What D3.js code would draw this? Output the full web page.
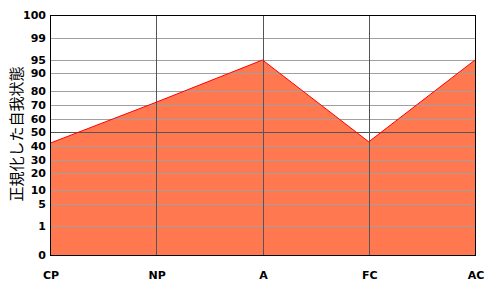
<!DOCTYPE html>
<html>
<head>
<meta charset="utf-8">
<script src="https://cdn.jsdelivr.net/npm/d3@7"></script>
<style>
  body { margin: 0; background: #fff; }
  .tick-label { font-family: "DejaVu Sans", sans-serif; font-weight: bold; font-size: 11px; fill: #000; }
  .axis-title { font-family: "Noto Sans CJK JP", sans-serif; font-size: 15px; fill: #000; }
</style>
</head>
<body>
<div id="chart"></div>
<script>
const egoStates = ["CP", "NP", "A", "FC", "AC"];
const percentiles = [42, 72, 95, 43, 95];
const yTicks = [0, 1, 5, 10, 20, 30, 40, 50, 60, 70, 80, 90, 95, 99, 100];

const width = 500;
const height = 300;
const margin = { top: 15, right: 25, bottom: 45, left: 50 };

const svg = d3.select("#chart").append("svg").attr("width", width).attr("height", height);

const xScale = d3.scalePoint().domain(egoStates).range([margin.left, width - margin.right]);
// normalized (non-linear) percentile axis, piecewise between the tick stops
const yScale = d3.scaleLinear()
    .domain(yTicks)
    .range([255, 226, 204, 190, 173, 160, 146, 132, 119, 105, 91, 73, 60, 38, 15]);

const data = egoStates.map((s, i) => ({ state: s, value: percentiles[i] }));

const area = d3.area().x(d => xScale(d.state)).y0(yScale(0)).y1(d => yScale(d.value));
const line = d3.line().x(d => xScale(d.state)).y(d => yScale(d.value));

svg.append("path").datum(data).attr("fill", "#FF7850").attr("d", area);

const crisp = v => Math.round(v) + 0.5;

// horizontal grid
svg.append("g").selectAll("line").data(yTicks.filter(t => t > 0 && t < 100)).enter().append("line")
    .attr("x1", margin.left).attr("x2", width - margin.right)
    .attr("y1", d => crisp(yScale(d))).attr("y2", d => crisp(yScale(d)))
    .attr("stroke", d => d === 50 ? "#555555" : "#A0A0A0").attr("stroke-width", 1);

// vertical grid
svg.append("g").selectAll("line").data(egoStates.slice(1, -1)).enter().append("line")
    .attr("x1", d => crisp(xScale(d))).attr("x2", d => crisp(xScale(d)))
    .attr("y1", yScale(100)).attr("y2", yScale(0))
    .attr("stroke", "#555555").attr("stroke-width", 1);

svg.append("path").datum(data).attr("fill", "none").attr("stroke", "#FF0000").attr("stroke-width", 1).attr("d", line);

// frame
svg.append("rect")
    .attr("x", crisp(margin.left)).attr("y", crisp(yScale(100)))
    .attr("width", (width - margin.right) - margin.left).attr("height", yScale(0) - yScale(100))
    .attr("fill", "none").attr("stroke", "#000").attr("stroke-width", 1);

// y tick labels
svg.append("g").selectAll("text").data(yTicks).enter().append("text")
    .attr("class", "tick-label")
    .attr("x", 46).attr("y", d => yScale(d) + 4)
    .attr("text-anchor", "end")
    .text(d => d);

// x labels
svg.append("g").selectAll("text").data(egoStates).enter().append("text")
    .attr("class", "tick-label")
    .attr("x", d => xScale(d) + 1).attr("y", 279)
    .attr("text-anchor", "middle")
    .text(d => d);

svg.append("text").attr("class", "axis-title")
    .attr("transform", "rotate(-90)")
    .attr("x", -134).attr("y", 22)
    .attr("text-anchor", "middle")
    .text("正規化した自我状態");
</script>
</body>
</html>
